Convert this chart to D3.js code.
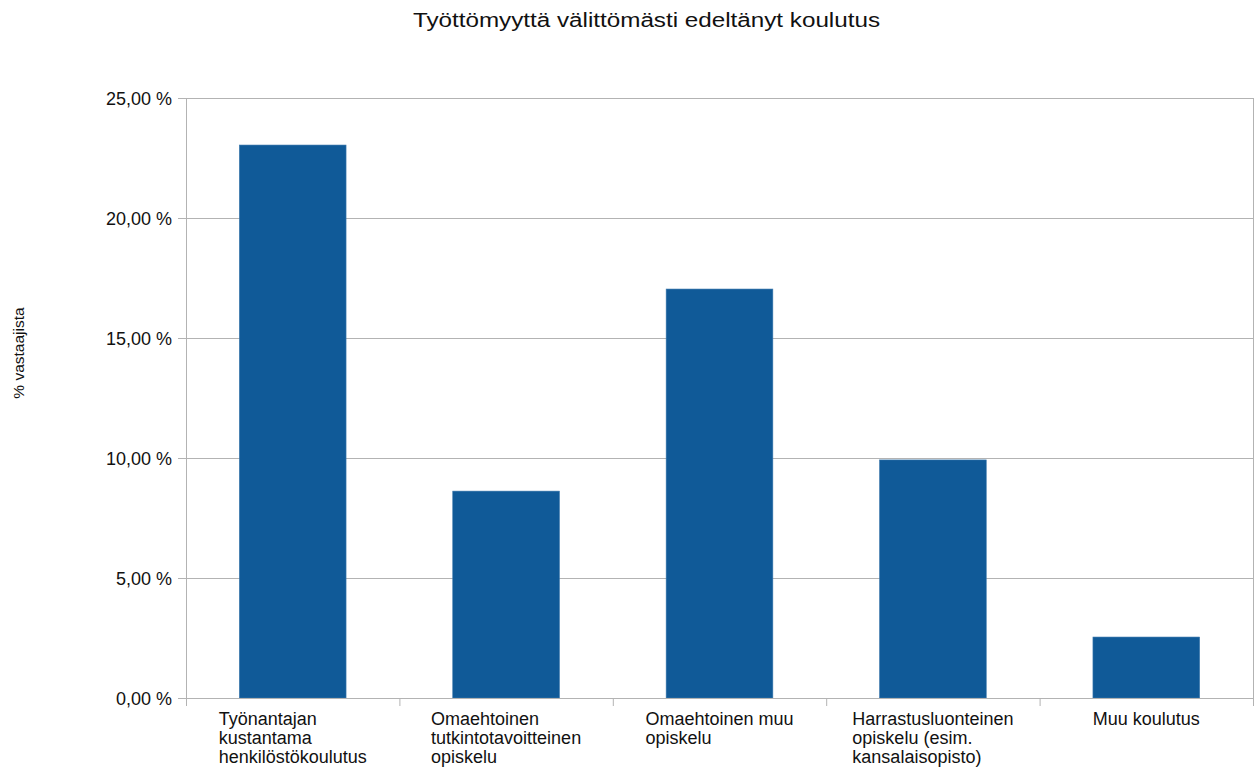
<!DOCTYPE html>
<html>
<head>
<meta charset="utf-8">
<script src="https://cdn.jsdelivr.net/npm/d3@7"></script>
<style>
body { margin: 0; background: #fff; }
text { font-family: "Liberation Sans", Arial, sans-serif; fill: #111; }
</style>
</head>
<body>
<svg id="chart" width="1255" height="767"></svg>
<script>
// data
var categories = [
	['Työnantajan', 'kustantama', 'henkilöstökoulutus'],
	['Omaehtoinen', 'tutkintotavoitteinen', 'opiskelu'],
	['Omaehtoinen muu', 'opiskelu'],
	['Harrastusluonteinen', 'opiskelu (esim.', 'kansalaisopisto)'],
	['Muu koulutus']
];
var values = [23.04, 8.62, 17.04, 9.92, 2.54];
var yTicks = [0, 5, 10, 15, 20, 25];

var svg = d3.select('#chart');
var plotLeft = 186, plotRight = 1253, plotTop = 98, plotBottom = 698;

var x = d3.scaleBand()
	.domain(d3.range(values.length))
	.range([plotLeft, plotRight])
	.paddingInner(0.5)
	.paddingOuter(0.25);

var y = d3.scaleLinear()
	.domain([0, 25])
	.range([plotBottom, plotTop]);

// title
svg.append('text')
	.attr('x', 413)
	.attr('y', 27)
	.attr('textLength', 467)
	.attr('lengthAdjust', 'spacingAndGlyphs')
	.style('font-size', '19.5px')
	.text('Työttömyyttä välittömästi edeltänyt koulutus');

// y axis title
svg.append('text')
	.attr('transform', 'translate(24,353) rotate(-90)')
	.attr('text-anchor', 'middle')
	.style('font-size', '15.5px')
	.text('% vastaajista');

// gridlines
svg.append('g').selectAll('line')
	.data(yTicks)
	.enter().append('line')
	.attr('x1', plotLeft - 8)
	.attr('x2', plotRight)
	.attr('y1', function(d) {return y(d) + 0.5})
	.attr('y2', function(d) {return y(d) + 0.5})
	.style('stroke', '#b3b3b3')
	.style('stroke-width', 1);

// right border of the plot
svg.append('line')
	.attr('x1', plotRight + 0.5).attr('x2', plotRight + 0.5)
	.attr('y1', plotTop).attr('y2', plotBottom)
	.style('stroke', '#b3b3b3');

// y tick labels
svg.append('g').selectAll('text')
	.data(yTicks)
	.enter().append('text')
	.attr('x', 172)
	.attr('y', function(d) {return y(d) + 6.5})
	.attr('text-anchor', 'end')
	.style('font-size', '18px')
	.text(function(d) {return d3.format('.2f')(d).replace('.', ',') + ' %'});

// bars
svg.append('g').selectAll('rect')
	.data(values)
	.enter().append('rect')
	.attr('x', function(d, i) {return x(i)})
	.attr('width', x.bandwidth())
	.attr('y', function(d) {return y(d)})
	.attr('height', function(d) {return plotBottom - y(d)})
	.style('fill', '#105a98')
	.style('stroke', '#3b78ad')
	.style('stroke-width', 0.6);

// axis lines
svg.append('line')
	.attr('x1', plotLeft + 0.5).attr('x2', plotLeft + 0.5)
	.attr('y1', plotTop).attr('y2', plotBottom + 8)
	.style('stroke', '#b3b3b3');
svg.append('line')
	.attr('x1', plotLeft).attr('x2', plotRight)
	.attr('y1', plotBottom + 0.5).attr('y2', plotBottom + 0.5)
	.style('stroke', '#b3b3b3');

// x ticks at category boundaries
var step = x.step();
svg.append('g').selectAll('line')
	.data(d3.range(values.length + 1))
	.enter().append('line')
	.attr('x1', function(i) {return plotLeft + i * step + 0.5})
	.attr('x2', function(i) {return plotLeft + i * step + 0.5})
	.attr('y1', plotBottom)
	.attr('y2', plotBottom + 8)
	.style('stroke', '#b3b3b3');

// category labels: left aligned block, centred on the band
var labels = svg.append('g').selectAll('text')
	.data(categories)
	.enter().append('text')
	.style('font-size', '18px');
labels.each(function(lines) {
	var t = d3.select(this);
	lines.forEach(function(line, k) {
		t.append('tspan')
			.attr('x', 0)
			.attr('y', 725 + k * 19)
			.text(line);
	});
});
labels.attr('transform', function(lines, i) {
	var w = this.getBBox().width;
	var c = x(i) + x.bandwidth() / 2;
	return 'translate(' + (c - w / 2) + ',0)';
});
</script>
</body>
</html>
